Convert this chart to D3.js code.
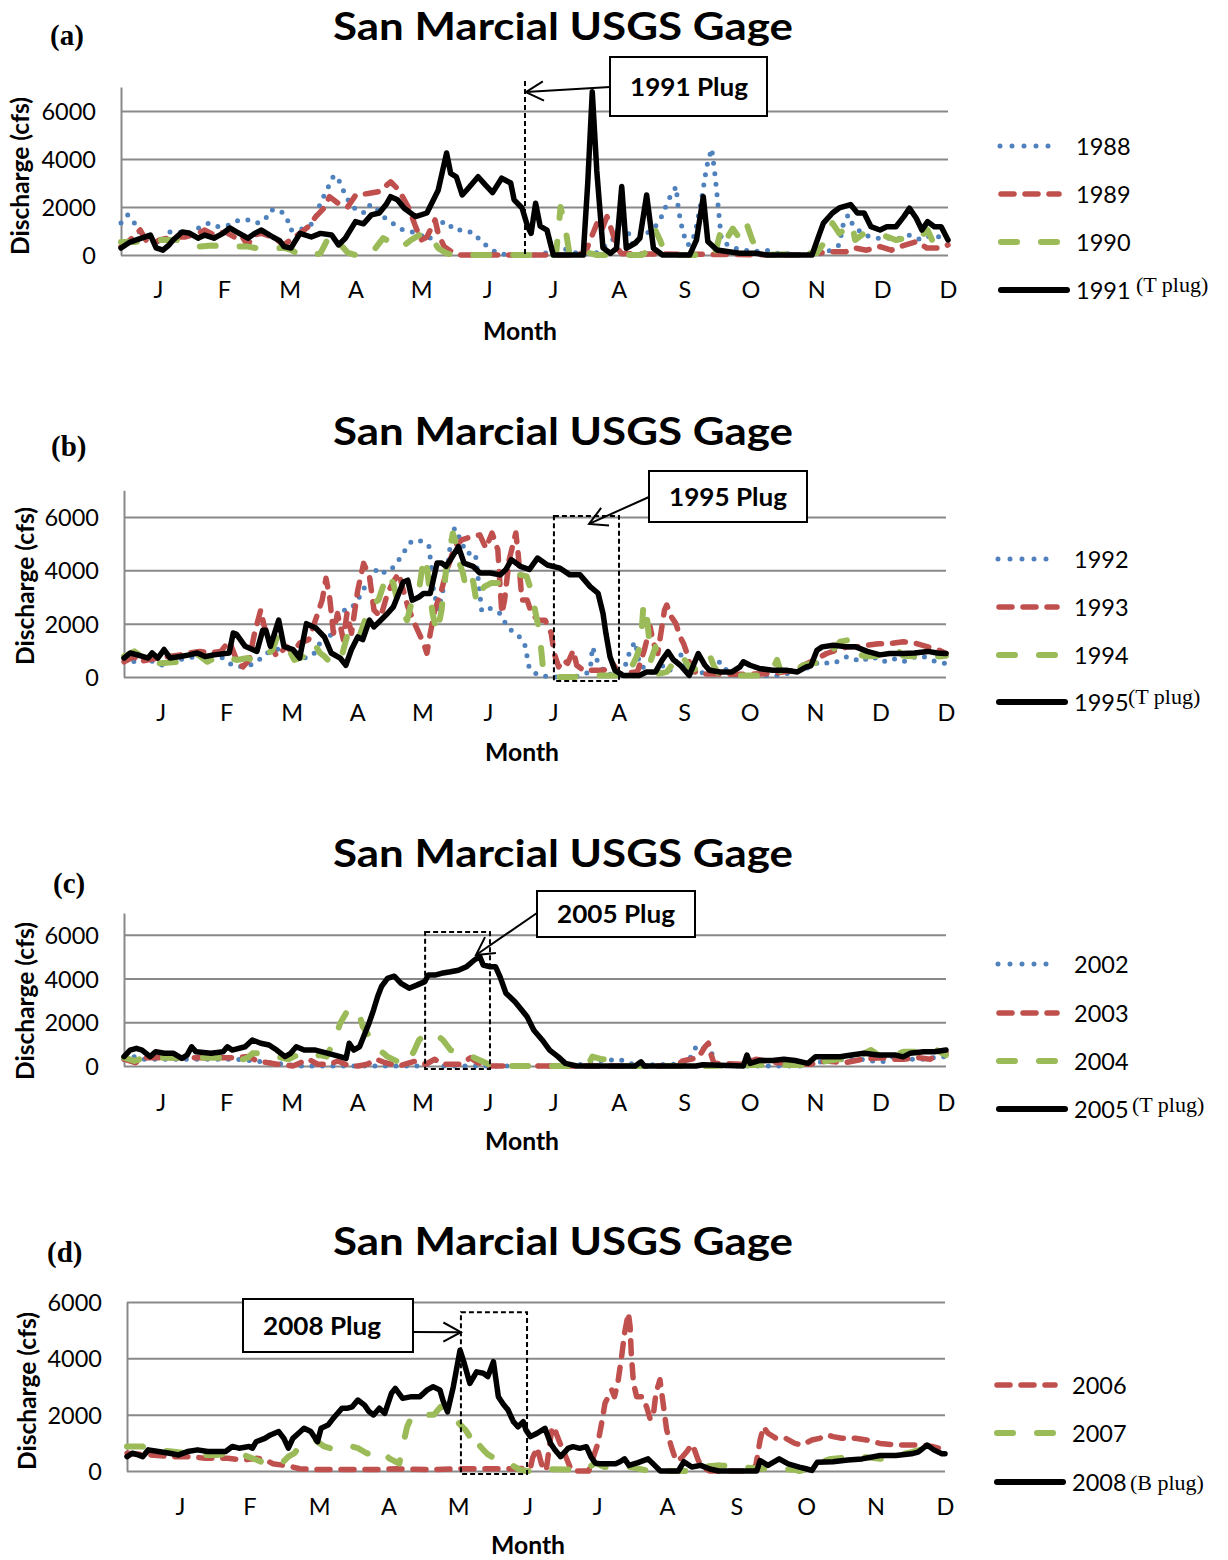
<!DOCTYPE html>
<html><head><meta charset="utf-8">
<script src="https://cdn.jsdelivr.net/npm/d3@7"></script>
<style>body{margin:0;background:#fff}svg{display:block}</style>
</head><body>
<svg id="chart" width="1228" height="1560"></svg>
<script>
// ---------- DATA (day of year, discharge cfs) ----------
const titleText = "San Marcial USGS Gage";
const yAxisTitle = "Discharge (cfs)";
const xAxisTitle = "Month";
const yTicks = [0, 2000, 4000, 6000];
const months13 = ["J","F","M","A","M","J","J","A","S","O","N","D","D"];
const months12 = ["J","F","M","A","M","J","J","A","S","O","N","D"];
const tickDays13 = [16.3,45.4,74.4,103.5,132.5,161.6,190.6,219.7,248.7,277.8,306.8,335.9,365];
const tickDays12 = [23.6,54.6,85.7,116.7,147.8,178.8,209.8,240.9,271.9,303,334,365];

const s1988 = [[0,1330],[3,1670],[5.6,1390],[8,960],[11,900],[14,750],[17,420],[21,960],[26,960],[30,830],[35,1180],[39,1330],[43,1180],[48,1250],[52,1460],[56.5,1460],[60,1330],[63.5,1460],[66,1875],[70,1875],[73,1600],[75,1040],[79,1040],[85,1330],[88,2160],[90.5,2640],[94,3330],[96.6,3050],[98.7,2560],[101,2160],[104.5,1810],[108,1750],[110,2100],[112,2000],[116.6,1530],[121,1250],[124.5,1040],[131.5,900],[135,625],[138.5,830],[141,1330],[143.7,1390],[147,1040],[151,1040],[156,900],[159,540],[163,290],[166,70],[171,0],[185,0],[191,200],[195,280],[200,100],[205,50],[210,100],[214,400],[217,630],[219,1000],[221.5,1330],[224,900],[226,420],[229,700],[232,900],[235,1100],[237,1330],[239,1670],[241,2160],[242,2360],[245,2850],[246,1900],[248,950],[250,420],[252,500],[254,1200],[256,2200],[257,2780],[258.5,3680],[260.7,4440],[262,3470],[263,2570],[264,1600],[265,630],[268,400],[270,300],[275,200],[280,150],[285,200],[290,70],[300,20],[310,50],[314,250],[317,420],[319,1390],[321,1670],[323,1250],[328,830],[334,700],[340,700],[344,700],[348,830],[353,630],[358,830],[363,700],[365,700]];
const s1989 = [[0,350],[4,625],[8.5,1040],[11,625],[13,420],[17,625],[23,750],[28,750],[34,900],[37,1040],[41,830],[46,960],[50,750],[53,830],[56,390],[58,830],[62,900],[67,750],[72,420],[75.6,700],[79,900],[82.6,1180],[86,1600],[89.6,1960],[92,2430],[96.6,2100],[100,2000],[103.6,2500],[109,2560],[114,2640],[119,3050],[122.7,2700],[127,1960],[130,1180],[132.5,625],[135,750],[138.6,1460],[140,900],[142.6,350],[147,70],[150,0],[200,0],[205,100],[207,600],[210,1300],[212,1000],[214.5,1600],[217,900],[219,280],[221,50],[300,0],[306.7,70],[314,140],[320,140],[324,290],[329,200],[335,350],[340,200],[344,350],[351,560],[355.7,290],[361,290],[365,420]];
const s1990 = [[0,540],[6,540],[13,625],[20,625],[25,625],[30,420],[35,350],[40,400],[45,350],[50,350],[56,350],[60,280],[67,280],[72,300],[75,210],[79,0],[85,0],[88,70],[91,625],[94,830],[97,420],[100,100],[103.6,0],[110,0],[115.7,700],[119,540],[122,280],[125,400],[128,625],[131.6,830],[136,900],[140,280],[143.7,70],[147,0],[192,0],[194,2000],[196,1200],[198,0],[203,100],[206,100],[210,0],[230,0],[234,300],[236,1000],[238,600],[240,100],[245,0],[262,0],[265,1100],[267,625],[270,1100],[273,700],[276,1330],[278.6,625],[281,200],[285,0],[303,70],[307,70],[311,600],[314,1330],[317,900],[320,1100],[322.6,1330],[324,625],[328,900],[333,900],[337,800],[342,625],[346,700],[350,750],[353,750],[356,1040],[359,420],[362,290],[365,300]];
const s1991 = [[0,290],[4,540],[9,700],[13,830],[15.5,300],[18.5,200],[21,400],[23,625],[27,960],[30,920],[34,700],[37,830],[41,700],[45,900],[48,1125],[51,960],[56,700],[59,900],[62,1040],[67,750],[70,600],[72,350],[75,290],[79,900],[84,750],[88,900],[93,830],[96,420],[99,700],[103.5,1390],[107,1300],[110.5,1670],[114,1750],[117,2100],[119,2430],[122,2300],[125,1950],[130,1600],[135,1750],[140,2700],[143.7,4250],[145.5,3400],[148,3260],[150.6,2500],[153,2750],[157.6,3260],[161,2900],[164,2600],[168,3200],[172,3000],[173.5,2300],[177,1960],[179.5,1180],[181,900],[183,2160],[185,1200],[188,1040],[190.8,0],[204,0],[206,3000],[208,6800],[210,3500],[212.7,300],[216,70],[218.7,280],[221,2850],[223,280],[227,500],[229,700],[232,2500],[235,280],[238,70],[239,0],[251,0],[254,630],[257,2430],[259,560],[263,210],[273,70],[280,70],[285,0],[305,0],[307.6,700],[310,1330],[314,1750],[317,1960],[322,2100],[325,1750],[328,1750],[331,1180],[335,1040],[338,1180],[342,1180],[345.5,1600],[348,1950],[351,1530],[353.5,1040],[356,1390],[359,1180],[362,1180],[365,625]];

const s1992 = [[0,710],[4.6,570],[9,770],[14,510],[18,430],[24,640],[28,710],[33,770],[37,830],[42,830],[46.7,510],[51,380],[56,440],[59,570],[63.4,900],[68,1030],[72,1150],[76.6,900],[80,710],[84,830],[87,1270],[90.6,1150],[93,2070],[96,2500],[98.5,2500],[101,2570],[104.6,3010],[107,3390],[110,3760],[112.6,4080],[116,3900],[120,4140],[124,4640],[126.6,5010],[129,5140],[133,5080],[135.4,4890],[136.6,4020],[137.5,3200],[139.7,2510],[142,3390],[143.5,3900],[145,5070],[146.8,5580],[149.5,5140],[152,4640],[156,4640],[157,3900],[158.8,2510],[161,2640],[164,2510],[167,2380],[170.6,1830],[175,1580],[178,1200],[179,760],[180,320],[184,60],[190,0],[200,0],[205,120],[207,250],[208,1130],[210,640],[214,100],[220,100],[223,510],[224.7,1000],[227,1320],[228,880],[229,440],[232,300],[236.5,60],[238,500],[242,200],[247,880],[249,500],[253,120],[260,200],[264.6,570],[268,200],[275,60],[290,60],[301.5,250],[309,570],[314,500],[318.7,640],[321,760],[324,700],[327,570],[332,770],[337,570],[341,700],[346,570],[351.7,770],[355,770],[360.6,570],[365,510]];
const s1993 = [[0,570],[4.6,770],[6,570],[15,710],[25,830],[29,900],[33.6,960],[38,900],[43,960],[46.7,1350],[48,1080],[50,640],[52.8,380],[55.6,640],[58,1650],[60.7,2510],[62,2000],[64,1380],[67.8,770],[69.5,900],[72,1150],[75,900],[78,1270],[82,1400],[85,2130],[88,2880],[89.7,3700],[91.3,3000],[93,1640],[94.8,2380],[97.4,1400],[99,2380],[101,1640],[103.8,3260],[106.4,4260],[109,3770],[111,2510],[114,2260],[117,3130],[119.6,3570],[122,3890],[126,2640],[129,2010],[133,1270],[134.5,890],[136,1640],[138,2510],[140.6,3130],[143,3900],[146.8,4890],[150,5140],[154.6,5270],[158,5330],[160.7,4830],[163.4,5400],[166,4770],[167,3390],[167.8,2380],[169,2890],[171,4390],[174,5400],[175,4640],[176.7,2890],[179,2890],[181,2380],[184,2130],[187,2130],[189.7,1640],[191,890],[193,380],[195,640],[197,510],[199.5,1000],[201,440],[204,250],[213,250],[217,510],[220,120],[228,200],[231,1000],[232.5,1500],[233.6,1890],[235,1300],[237,880],[240,2510],[241,2700],[243,2260],[245,2010],[247,1500],[248.5,1250],[250,880],[252,250],[256,120],[270,100],[285,120],[290,150],[297,250],[305,570],[312,880],[316,1000],[321,1130],[325,1130],[330,1190],[335,1250],[340,1250],[346,1320],[352,1250],[357,1130],[362,1000],[365,880]];
const s1994 = [[0,770],[4.6,960],[9,710],[15,510],[25,570],[29,770],[33,830],[37,570],[42,770],[46.7,710],[50,640],[55,710],[59,570],[62.5,770],[66,1030],[68,1500],[71,1400],[75.6,640],[80,770],[82.6,1150],[84.5,1270],[87,900],[89,770],[92,510],[96,570],[99.4,1640],[101,1760],[104,1400],[107,2130],[110.8,2760],[113,2890],[117,3890],[119.6,3510],[122,2640],[125.7,2130],[128,2890],[131,3260],[132.7,4270],[134,4510],[135.5,3390],[137,2390],[139,1640],[141,2500],[143,4000],[146,5390],[147,5140],[149,4260],[150.5,3890],[152,3260],[153.5,3640],[155,3600],[156.6,2760],[158,3140],[160,3390],[163,3520],[168,3520],[172.8,3700],[176,3830],[178.8,3770],[181.7,3010],[182.5,2510],[184,1890],[185,1250],[186,380],[188,120],[192,0],[200,0],[207,60],[218,60],[222,0],[224.7,250],[227.6,760],[229,1130],[230,1890],[230.6,2640],[231.5,2760],[232.5,2010],[234,640],[236,1130],[237.5,120],[241,190],[247,880],[249,640],[252,250],[256,380],[260,820],[262,400],[264,120],[270,60],[285,60],[288,300],[290,640],[292,100],[298,200],[301.5,440],[309,570],[312,760],[318,1320],[322,1390],[324,1190],[325,880],[329,770],[335,800],[343,1030],[346,800],[352,770],[357,800],[362,770],[365,800]];
const s1995 = [[0,710],[2.7,900],[6,830],[10.7,710],[12.5,900],[15,710],[17.8,1030],[20.5,710],[25,770],[29,830],[32.5,900],[36,770],[40,830],[46.7,900],[48.5,1650],[50,1600],[53.8,1150],[59,960],[61.6,1750],[63,1750],[65,1150],[68.7,2130],[71,1150],[75,1030],[78,710],[81,2000],[85,1850],[89,1500],[92,900],[96,710],[98.5,440],[101,1030],[103.8,1500],[106,1400],[109,2130],[111,1880],[114,2130],[117,2380],[119.6,2630],[122,3130],[124,3560],[126,3630],[128,2880],[131,3000],[133,3130],[136,3130],[139,4270],[141,4270],[143,4150],[145,4400],[148.5,4890],[151,4270],[155,4150],[158,3900],[162.6,3900],[167,3830],[169.6,4030],[172,4400],[176,4150],[180,4030],[183.6,4460],[188,4200],[193.6,4080],[198,3830],[202.5,3830],[207,3390],[210.5,3140],[212.7,2380],[214,1630],[215.8,760],[218,250],[221.6,60],[229,60],[232,190],[236,190],[239,640],[241.6,950],[244,640],[247,440],[251,60],[255,880],[258,440],[260,250],[264.7,190],[270,190],[273.5,380],[275,570],[278,440],[282,320],[288,250],[294,250],[299,190],[303,380],[305,420],[307.7,1000],[310,1130],[315,1190],[321,1130],[325,1130],[330,960],[335.7,830],[340,880],[346,880],[351,900],[357,960],[361,900],[365,880]];

const s2002 = [[0,310],[4.6,430],[9,310],[15,310],[25,310],[35,310],[45,310],[50,310],[58,230],[65,150],[70,100],[78,0],[130,0],[134.5,80],[138,310],[141,0],[200,0],[206,150],[211,230],[220,310],[225,100],[235,50],[250,100],[254,880],[256,960],[258,700],[261,580],[263,120],[268,0],[300,0],[305,120],[312,230],[320,300],[328,300],[332,230],[337,200],[343,500],[348,310],[355,310],[362,420],[365,420]];
const s2003 = [[0,310],[5,150],[10,380],[20,380],[30,380],[40,380],[48,380],[55.5,430],[59,230],[64,150],[68,80],[75,0],[82,310],[86,80],[91,80],[95,230],[100,0],[104,0],[108,80],[112,310],[116,150],[122,0],[127,150],[129.7,230],[134,80],[138,310],[141,80],[149,80],[154,380],[157,150],[162,0],[245,0],[248,230],[255,380],[258,880],[259.5,1040],[260.5,580],[262,120],[275,80],[280.6,310],[290,150],[305,80],[312,230],[320,150],[328,310],[336,380],[342,310],[346,310],[353,380],[358,310],[363,650],[365,600]];
const s2004 = [[0,380],[4.7,230],[9,380],[20,380],[30,380],[40,380],[48,380],[53,310],[55,380],[57,580],[64,580],[68,430],[73,310],[77,500],[82,380],[87,500],[90,430],[94,1350],[96,1960],[98.6,2420],[100,2660],[103,2510],[104.5,2350],[106,1810],[108,1500],[110.8,1120],[113.5,730],[117,430],[121,230],[125.7,80],[129,730],[131,1190],[133.6,1430],[138,1500],[141.6,1190],[145,730],[148,650],[152,580],[155.5,380],[162,80],[166,0],[203,0],[207,230],[208,430],[212,310],[218,310],[222,0],[260,0],[280,50],[305,50],[312,230],[317,310],[325,380],[331.7,730],[336,430],[342,500],[346,650],[351,650],[356,430],[361,730],[365,500]];
const s2005 = [[0,430],[2.7,730],[5.5,810],[8,730],[11.6,430],[14,650],[18,580],[22,580],[25.7,350],[28,500],[30,880],[32,650],[38.6,580],[44,650],[45.9,880],[48,730],[53.8,880],[57,1190],[60.7,1040],[64.4,960],[67.8,730],[71.5,430],[74,580],[76.5,880],[80,730],[85,730],[90.6,580],[96,430],[98.6,350],[100,1040],[102,730],[104.6,880],[107,1500],[108.8,1960],[110.8,2560],[112.6,3170],[114.3,3630],[117,4010],[120,4110],[123,3780],[126.6,3560],[130,3700],[133.6,3860],[135,4160],[138,4160],[141,4240],[145,4310],[148.5,4380],[152,4540],[155.6,4850],[158,5000],[159.5,4620],[162.6,4540],[165,4540],[167,4080],[169.6,3330],[173.6,2940],[176.6,2560],[179,2250],[182,1640],[185.7,1190],[189,730],[192.7,430],[196,120],[201,0],[227,0],[229.6,190],[231,0],[254,0],[257,60],[275,0],[276.6,500],[278,120],[282,250],[288,250],[293,310],[298,250],[303.7,120],[307,420],[312.6,420],[318,420],[323,500],[328.6,580],[335,500],[342.8,500],[346,420],[349,580],[355,650],[360,650],[365,730]];

const s2006 = [[0,630],[10,570],[20,510],[28,510],[35,450],[45,450],[52,390],[58,450],[62,390],[65,260],[70,200],[74,140],[77,80],[85,50],[100,50],[110,50],[120,80],[135,50],[150,80],[170,80],[180,100],[181,470],[183,830],[185,240],[187,0],[189.5,1460],[190.5,1580],[192,1230],[194,830],[196,470],[198.4,0],[206,0],[208,470],[210,950],[211.8,1700],[213.3,2410],[214.8,2640],[216.3,2880],[217.5,2640],[219,3120],[220.7,4060],[222,4890],[223.7,5610],[224.5,5130],[225,4180],[226,3120],[227.4,2640],[230,2640],[232,2240],[233.5,1830],[234.8,1940],[236,2760],[237.8,3240],[239,2530],[240.8,1460],[243,830],[245,360],[247.5,470],[250,710],[252,950],[253,800],[255,360],[257,120],[260,0],[279,0],[280.7,240],[282.5,1100],[284,1570],[286,1340],[289.6,1160],[294,1160],[298,980],[301,920],[305.6,1100],[309,1160],[312.7,1280],[315,1220],[319,1160],[325,1160],[330,1100],[336,980],[343,920],[350,920],[355,920],[360,860],[365,750]];
const s2007 = [[0,870],[7,870],[13,750],[20,690],[27,630],[34,570],[40,570],[45.7,630],[52,570],[58,390],[62,260],[67.7,390],[70,350],[72,510],[74.7,630],[77,870],[80.8,1040],[84,1100],[86,980],[88,870],[93,750],[96,810],[100.3,870],[103,810],[107,630],[110,570],[114,690],[117,450],[121.5,260],[123,870],[125,1570],[127,1930],[130,2050],[134,1990],[137,2000],[140,2280],[143,2150],[146,1930],[148,1700],[151,1460],[153,1220],[155,710],[157.5,890],[159,750],[161,590],[164,450],[167.8,360],[171,240],[175,60],[178,0],[185,0],[187,60],[200,50],[204,50],[207,180],[209,280],[213,140],[225,140],[233,0],[250,0],[254,140],[264.6,200],[275,130],[285,80],[289.6,80],[298,40],[300,0],[305,100],[307,260],[314,430],[321.7,490],[330,490],[336,430],[343,550],[350,670],[355.6,780],[357,870]];
const s2008 = [[0,510],[2.4,630],[5,570],[7,510],[9.5,750],[14,690],[19,630],[23,570],[27,690],[31.5,750],[36,690],[40,690],[44,690],[47,870],[50,810],[54.5,870],[56,810],[57.6,1040],[61.5,1160],[64,1280],[67.7,1400],[70,1160],[72,810],[74,1160],[77.4,1400],[79,1520],[82,1400],[85,1040],[86.6,1520],[89.7,1630],[92,1870],[94,2050],[96,2230],[98.5,2230],[100.5,2280],[103,2520],[106,2340],[108,2110],[110,1990],[112.6,2230],[115,2050],[118,2760],[119.7,2930],[123,2580],[127,2640],[130.7,2640],[134,2880],[136.6,2990],[139.6,2880],[141,2500],[143,2100],[145.6,2990],[148.6,4290],[150.5,3820],[153,3110],[156,3520],[159,3470],[161,3350],[163.5,3880],[165.7,2640],[168,2360],[170,2170],[172.4,1750],[174.5,1570],[176.8,1750],[178,1460],[180,1220],[183,1340],[186.5,1515],[189,980],[191,746],[193.5,509],[196.8,805],[199,864],[202,805],[205,864],[207,509],[209,272],[211,260],[218,260],[220,330],[222,430],[224,200],[228,300],[232.5,430],[238,0],[246,0],[248.5,330],[252,140],[256,200],[260,70],[264,0],[281,0],[282.5,370],[286,200],[291,430],[295,250],[300,140],[303,80],[305.6,20],[308,310],[315,330],[321.7,390],[328,430],[336,550],[343,550],[350,610],[353,670],[357,920],[360,750],[363.6,610],[365,610]];

// ---------- STYLES ----------
const styles = {
  blue:  {stroke:"#4F81BD", width:5,   dash:"0 10.5"},
  red:   {stroke:"#C0504D", width:5.5, dash:"13 11"},
  green: {stroke:"#9BBB59", width:6,   dash:"16 24"},
  black: {stroke:"#000000", width:5.5, dash:null}
};
const gridColor = "#898989";

// ---------- PANEL LAYOUT ----------
const panels = [
 { tag:"(a)", tagX:50, tagY:45, titleY:40, x0:121, x1:948, y0:255, yTop:87, yMax:7000,
   months:months13, ticks:tickDays13, xLabelBase:298, monthX:520, monthBase:340, yTitleX:20, yTitleY:176,
   series:[{name:"1988",data:s1988,st:"blue"},{name:"1989",data:s1989,st:"red"},{name:"1990",data:s1990,st:"green"},{name:"1991",data:s1991,st:"black",note:"(T plug)"}],
   legY:[146,194,242,290], legX:998, legTX:1076, noteX:1136, noteRaise:7,
   plug:{kind:"vline", d0:178.3, vTop:7250, tip:[178.7,6790], box:[610,57,767,116], from:[610,87], label:"1991 Plug", textX:689} },
 { tag:"(b)", tagX:51, tagY:456, titleY:445, x0:124, x1:946, y0:677, yTop:490.3, yMax:7000,
   months:months13, ticks:tickDays13, xLabelBase:721, monthX:522, monthBase:761, yTitleX:25, yTitleY:586,
   series:[{name:"1992",data:s1992,st:"blue"},{name:"1993",data:s1993,st:"red"},{name:"1994",data:s1994,st:"green"},{name:"1995",data:s1995,st:"black",note:"(T plug)"}],
   legY:[559,607,655,702], legX:996, legTX:1074, noteX:1128, noteRaise:7,
   plug:{kind:"box", d0:190.9, d1:219.8, vTop:6040, vBot:-150, tip:[206.5,5740], box:[649,471,807,522], from:[649,497], label:"1995 Plug", textX:728} },
 { tag:"(c)", tagX:53, tagY:893, titleY:867, x0:124, x1:946, y0:1066, yTop:913, yMax:7000,
   months:months13, ticks:tickDays13, xLabelBase:1111, monthX:522, monthBase:1150, yTitleX:25, yTitleY:1001,
   series:[{name:"2002",data:s2002,st:"blue"},{name:"2003",data:s2003,st:"red"},{name:"2004",data:s2004,st:"green"},{name:"2005",data:s2005,st:"black",note:"(T plug)"}],
   legY:[964,1013,1061,1109], legX:996, legTX:1074, noteX:1132, noteRaise:6,
   plug:{kind:"box", d0:133.7, d1:162.5, vTop:6130, vBot:-140, tip:[156.3,5080], box:[537,891,695,937], from:[537,913], label:"2005 Plug", textX:616} },
 { tag:"(d)", tagX:47, tagY:1262, titleY:1255, x0:127, x1:945, y0:1471, yTop:1302, yMax:6000,
   months:months12, ticks:tickDays12, xLabelBase:1515, monthX:528, monthBase:1554, yTitleX:27, yTitleY:1391,
   series:[{name:"2006",data:s2006,st:"red"},{name:"2007",data:s2007,st:"green"},{name:"2008",data:s2008,st:"black",note:"(B plug)"}],
   legY:[1385,1433,1482], legX:994, legTX:1072, noteX:1130, noteRaise:1,
   plug:{kind:"box", d0:149, d1:178.5, vTop:5640, vBot:-110, tip:[149,4930], box:[243,1299,413,1352], from:[413,1332], label:"2008 Plug", textX:322} }
];

const svg = d3.select("#chart");
svg.append("rect").attr("width",1228).attr("height",1560).attr("fill","#fff");

function fitWidth(sel, target){
  const w = sel.node().getComputedTextLength();
  const fs = parseFloat(sel.attr("font-size"));
  sel.attr("font-size", (fs*target/w).toFixed(2));
}

function drawPanel(p){
  const g = svg.append("g");
  const x = d3.scaleLinear().domain([0,365]).range([p.x0,p.x1]);
  const y = d3.scaleLinear().domain([0,p.yMax]).range([p.y0,p.yTop]);

  // grid + y axis
  const ya = g.append("g").attr("transform",`translate(${p.x0},0)`)
    .call(d3.axisLeft(y).tickValues(yTicks).tickSize(-(p.x1-p.x0)).tickSizeOuter(0).tickPadding(25).tickFormat(d3.format("d")));
  ya.selectAll(".tick line").attr("stroke",gridColor).attr("stroke-width",2);
  ya.select(".domain").attr("stroke",gridColor).attr("stroke-width",2);
  ya.selectAll("text").attr("font-family","Lato, 'Open Sans', sans-serif").attr("font-size",23.5).attr("fill","#000").attr("dy","0.36em");

  // x axis labels
  const xa = g.append("g").attr("transform",`translate(0,${p.y0})`)
    .call(d3.axisBottom(x).tickValues(p.ticks).tickFormat((d,i)=>p.months[i]).tickSize(0).tickPadding(p.xLabelBase-p.y0-16.6));
  xa.select(".domain").remove();
  xa.selectAll("text").attr("font-family","Lato, 'Open Sans', sans-serif").attr("font-size",23.5).attr("fill","#000");

  // series
  const line = d3.line().x(d=>x(d[0])).y(d=>y(d[1]));
  p.series.forEach(s=>{
    const st = styles[s.st];
    g.append("path").datum(s.data).attr("d",line)
      .attr("fill","none").attr("stroke",st.stroke).attr("stroke-width",st.width)
      .attr("stroke-linecap","round").attr("stroke-linejoin","round")
      .attr("stroke-dasharray",st.dash);
  });

  // plug annotation
  const pl = p.plug;
  const dashG = g.append("g").attr("fill","none").attr("stroke","#000").attr("stroke-width",2).attr("stroke-dasharray","5 3");
  if(pl.kind==="vline"){
    dashG.append("line").attr("x1",x(pl.d0)).attr("x2",x(pl.d0)).attr("y1",y(pl.vTop)).attr("y2",y(0));
  } else {
    dashG.append("rect").attr("x",x(pl.d0)).attr("y",y(pl.vTop)).attr("width",x(pl.d1)-x(pl.d0)).attr("height",y(pl.vBot)-y(pl.vTop));
  }
  const tx = x(pl.tip[0]), ty = y(pl.tip[1]);
  const [fx,fy] = pl.from;
  g.append("line").attr("x1",fx).attr("y1",fy).attr("x2",tx).attr("y2",ty).attr("stroke","#000").attr("stroke-width",2);
  const ang = Math.atan2(fy-ty, fx-tx), L = 20, a = 0.5;
  const arrow = `M${tx+L*Math.cos(ang+a)},${ty+L*Math.sin(ang+a)}L${tx},${ty}L${tx+L*Math.cos(ang-a)},${ty+L*Math.sin(ang-a)}`;
  g.append("path").attr("d",arrow).attr("fill","none").attr("stroke","#000").attr("stroke-width",2);
  const [bx0,by0,bx1,by1] = pl.box;
  g.append("rect").attr("x",bx0).attr("y",by0).attr("width",bx1-bx0).attr("height",by1-by0)
    .attr("fill","#fff").attr("stroke","#000").attr("stroke-width",2);
  g.append("text").attr("x",pl.textX).attr("y",(by0+by1)/2+9).attr("text-anchor","middle")
    .attr("font-family","Lato, sans-serif").attr("font-weight","bold").attr("font-size",25)
    .attr("textLength",118).attr("lengthAdjust","spacingAndGlyphs").text(pl.label);

  // titles
  g.append("text").attr("x",563).attr("y",p.titleY).attr("text-anchor","middle")
    .attr("font-family","Lato, sans-serif").attr("font-weight","bold").attr("font-size",38)
    .attr("textLength",460).attr("lengthAdjust","spacingAndGlyphs").text(titleText);
  g.append("text").attr("x",p.tagX).attr("y",p.tagY).attr("font-family","'Liberation Serif', 'Times New Roman', serif")
    .attr("font-weight","bold").attr("font-size",29).text(p.tag);
  const yt = g.append("text").attr("transform",`translate(${p.yTitleX},${p.yTitleY}) rotate(-90)`).attr("dy","0.36em")
    .attr("text-anchor","middle").attr("font-family","Lato, sans-serif").attr("font-weight","bold").attr("font-size",21).text(yAxisTitle);
  fitWidth(yt,158);
  const mt = g.append("text").attr("x",p.monthX).attr("y",p.monthBase).attr("text-anchor","middle")
    .attr("font-family","Lato, sans-serif").attr("font-weight","bold").attr("font-size",22).text(xAxisTitle);
  fitWidth(mt,74);

  // legend
  p.series.forEach((s,i)=>{
    const st = styles[s.st];
    const ly = p.legY[i];
    const isBlack = s.st==="black";
    const xs = s.st==="blue" ? p.legX+2 : p.legX+3;
    const xe = isBlack ? p.legX+69 : (s.st==="blue" ? p.legX+62 : p.legX+61);
    g.append("line").attr("x1",xs).attr("x2",xe).attr("y1",ly).attr("y2",ly)
      .attr("stroke",st.stroke).attr("stroke-width",isBlack?6:st.width).attr("stroke-linecap","round")
      .attr("stroke-dasharray", s.st==="blue" ? "0 12" : st.dash);
    g.append("text").attr("x",p.legTX).attr("y",ly+8.5).attr("font-family","Lato, sans-serif").attr("font-size",23.5).text(s.name);
    if(s.note){
      g.append("text").attr("x",p.noteX).attr("y",ly+8.5-p.noteRaise)
        .attr("font-family","'Liberation Serif', 'Times New Roman', serif").attr("font-size",22).text(s.note);
    }
  });
}
panels.forEach(drawPanel);
</script>
</body></html>
